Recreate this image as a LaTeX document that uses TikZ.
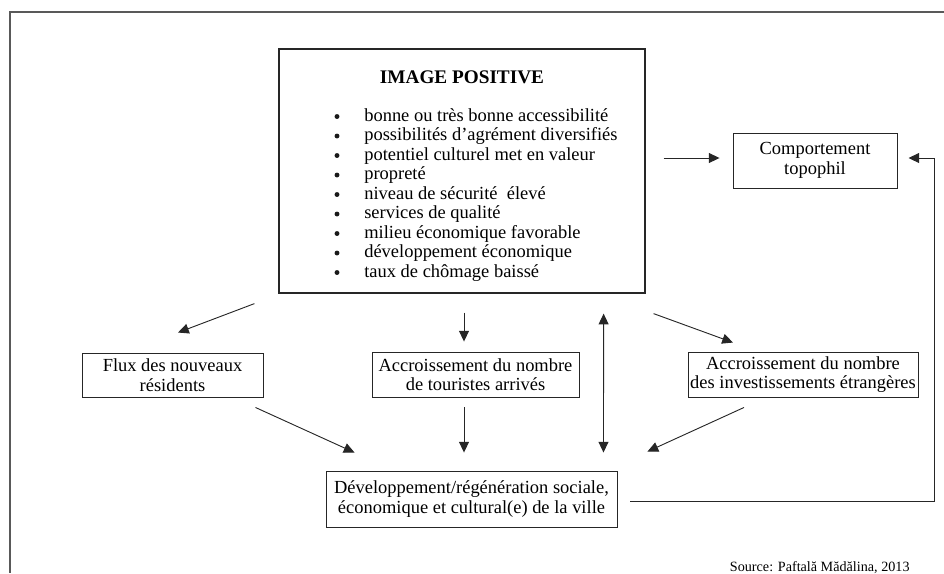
\documentclass[tikz,border=0pt]{standalone}
\usepackage{fontspec}
\setmainfont{Liberation Serif}
\usetikzlibrary{arrows.meta,calc}

\tikzset{
  box/.style={draw=black!85, line width=0.6pt, inner sep=0pt, align=center,
    font=\fontsize{12}{12.6}\selectfont},
  arr/.style={draw=black!85, line width=0.6pt, -{Triangle[length=7pt,width=6.5pt]}},
  arrboth/.style={arr, {Triangle[length=7pt,width=6.5pt]}-{Triangle[length=7pt,width=6.5pt]}},
  dot/.style={circle, fill=black!90, inner sep=0pt, minimum size=3.2pt},
}

\begin{document}
\begin{tikzpicture}[x=0.65pt, y=-0.65pt]
\useasboundingbox (0,0) rectangle (944,573);
% frame
\draw[gray!70!black, line width=1.2pt] (944,12) -- (10,12) -- (10,573);

% image positive
\node[box, line width=0.8pt, minimum width=237.9pt, minimum height=158.6pt] (main) at (462,171) {};
\node[anchor=base, font=\bfseries\fontsize{12.5}{14}\selectfont] (title) at (462,83) {IMAGE POSITIVE};
\foreach \t [count=\i] in {bonne ou très bonne accessibilité, possibilités d’agrément diversifiés,
  potentiel culturel met en valeur, propreté, niveau de sécurité~ élevé, services de qualité,
  milieu économique favorable, développement économique, taux de chômage baissé}{
  \node[dot] (dot\i) at (337,{116.5+19.5*(\i-1)}) {};
  \node[anchor=base west, inner sep=0pt, font=\fontsize{12}{14}\selectfont] (item\i) at (364,{121+19.5*(\i-1)}) {\t};
}

% other boxes
\node[box, minimum width=106.6pt, minimum height=35.75pt] (comp) at (815,160.5) {Comportement\\topophil};
\node[box, minimum width=117.65pt, minimum height=28.6pt] (flux) at (172.5,375) {Flux des nouveaux\\résidents};
\node[box, minimum width=134.55pt, minimum height=29.25pt] (tour) at (475.5,374.5) {Accroissement du nombre\\de touristes arrivés};
\node[box, minimum width=149.5pt, minimum height=29.25pt] (inv) at (803,374.5) {Accroissement du nombre\\des investissements étrangères};
\node[box, minimum width=189.15pt, minimum height=36.4pt] (dev) at (471.5,499) {Développement/régénération sociale,\\économique et cultural(e) de la ville};
\node[anchor=base east, font=\fontsize{9.2}{11}\selectfont] (src) at (915,571) {Source: Paftală Mădălina, 2013};

% arrows
\draw[arr] ($(main.east)+(18,-13)$) -- ($(comp.west)+(-13,-2.5)$);
\draw[arr] ($(main.south west)+(-24,10)$) -- ($(flux.north)+(5.5,-20)$);
\draw[arr] ($(main.south)+(2,19)$) -- ($(tour.north)+(-11.5,-10)$);
\draw[arrboth] ($(main.south east)+(-42,20)$) -- ($(dev.north east)+(-14,-18)$);
\draw[arr] ($(main.south east)+(8,20)$) -- ($(inv.north)+(-70,-9)$);
\draw[arr] ($(flux.south east)+(-8,10)$) -- ($(dev.north west)+(29,-18)$);
\draw[arr] ($(tour.south)+(-11.5,10)$) -- ($(dev.north)+(-7.5,-18)$);
\draw[arr] ($(inv.south)+(-59,10)$) -- ($(dev.north east)+(30,-19)$);
\draw[arr] ($(dev.east)+(13,2)$) -| ($(comp.east)+(37,-2.5)$) -- ($(comp.east)+(11,-2.5)$);
\end{tikzpicture}
\end{document}
